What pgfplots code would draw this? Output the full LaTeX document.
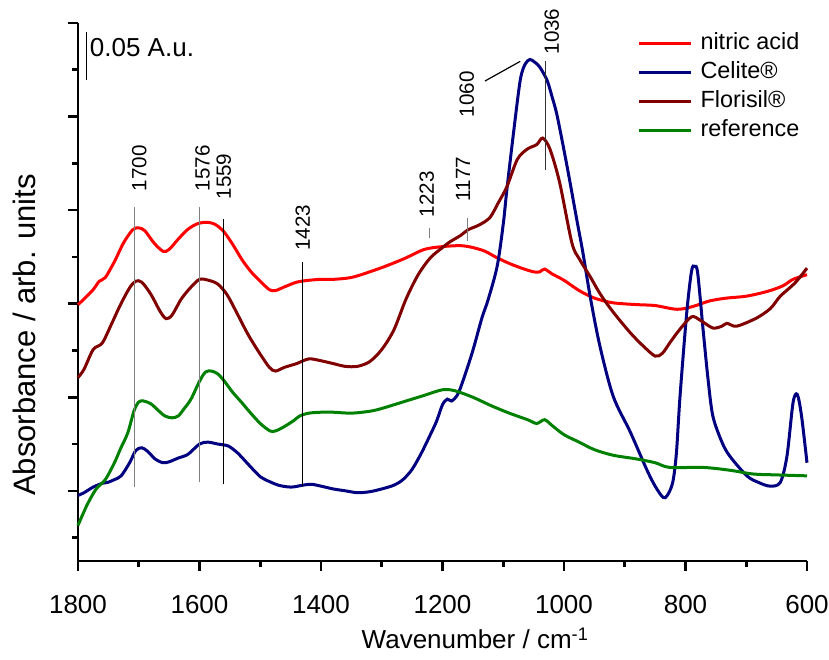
\documentclass[border=0pt]{standalone}
\usepackage{fontspec}
\setmainfont{Liberation Sans}
\usepackage{pgfplots}
\pgfplotsset{compat=1.18}
\definecolor{cred}{RGB}{255,0,0}
\definecolor{cblue}{RGB}{0,0,128}
\definecolor{cdred}{RGB}{128,0,0}
\definecolor{cgreen}{RGB}{0,128,0}
\newcommand{\annfont}{\fontsize{10.3}{12}\selectfont}
\begin{document}
\fontsize{13}{15.6}\selectfont
\begin{tikzpicture}
\begin{axis}[
  scale only axis, width=364.5pt, height=269pt,
  x dir=reverse, xmin=600, xmax=1800, ymin=-0.75, ymax=5,
  axis x line*=bottom, axis y line*=left,
  axis line style={-, line width=1.3pt},
  xtick={600,800,...,1800}, minor xtick={700,900,...,1700},
  ytick={0,1,2,3,4,5}, minor ytick={-0.5,0.5,1.5,2.5,3.5,4.5},
  yticklabels={},
  tick align=outside,
  major tick length=5pt, minor tick length=2.8pt,
  every tick/.style={black, line width=1.3pt},
  /pgf/number format/assume math mode=true,
  /pgf/number format/1000 sep={},
  xticklabel style={yshift=-7.5pt},
  xlabel={Wavenumber / cm\textsuperscript{-1}},
  ylabel={Absorbance / arb. units},
  xlabel style={at={(axis description cs:0.545,0)}, anchor=base, yshift=-44pt, inner sep=0pt},
  ylabel style={at={(axis description cs:0,0.42)}, anchor=south, yshift=21pt, inner sep=0pt,
    font=\fontsize{15.5}{18}\selectfont},
  clip=false,
  legend style={at={(rel axis cs:0.767,0.984)}, anchor=north west, draw=none, fill=none,
    row sep=2.8pt, inner sep=0pt, font=\fontsize{11.7}{14}\selectfont,
    nodes={inner sep=0pt, text height=8.8pt, text depth=2.9pt}},
  legend cell align=left,
  legend image code/.code={\draw[#1] (0pt,0pt) -- (26pt,0pt); \path (30pt,0pt);},
]
% nitric acid
\addplot[cred, line width=1.5pt, smooth] coordinates {
(1800,1.99)(1790,2.05)(1775,2.15)(1765,2.24)(1755,2.28)(1740,2.45)(1725,2.65)(1710,2.79)(1700,2.81)(1690,2.78)
(1675,2.65)(1660,2.56)(1650,2.58)(1635,2.69)(1620,2.79)(1605,2.85)(1590,2.87)(1575,2.85)(1560,2.77)(1545,2.63)
(1530,2.47)(1515,2.34)(1500,2.24)(1485,2.15)(1475,2.14)(1460,2.18)(1440,2.23)(1420,2.25)(1400,2.26)(1380,2.26)
(1350,2.28)(1320,2.34)(1290,2.41)(1260,2.49)(1230,2.58)(1200,2.61)(1170,2.62)(1150,2.60)(1130,2.56)(1110,2.49)
(1090,2.43)(1070,2.38)(1050,2.34)(1040,2.34)(1032,2.37)(1020,2.32)(1000,2.25)(975,2.14)(950,2.06)(920,2.01)
(880,1.99)(850,1.98)(814,1.94)(788,1.97)(760,2.03)(732,2.06)(700,2.08)(666,2.13)(640,2.19)(623,2.26)(600,2.31)};
\addlegendentry{nitric acid}
% Celite
\addplot[cblue, line width=1.5pt, smooth] coordinates {
(1800,-0.05)(1790,-0.02)(1775,0.04)(1760,0.08)(1751,0.09)(1740,0.12)(1729,0.16)(1715,0.30)(1705,0.43)(1695,0.46)
(1685,0.42)(1673,0.34)(1660,0.30)(1650,0.31)(1635,0.35)(1619,0.39)(1600,0.50)(1586,0.52)(1570,0.50)(1553,0.48)
(1540,0.42)(1532,0.37)(1515,0.25)(1500,0.15)(1492,0.12)(1470,0.06)(1449,0.04)(1430,0.06)(1416,0.07)(1400,0.05)
(1380,0.02)(1360,0.00)(1340,-0.02)(1320,-0.01)(1300,0.02)(1280,0.06)(1265,0.12)(1250,0.23)(1235,0.40)(1220,0.60)
(1210,0.74)(1200,0.92)(1192,0.98)(1185,0.96)(1175,1.03)(1165,1.20)(1150,1.50)(1135,1.85)(1125,2.04)(1110,2.40)
(1100,2.85)(1094,3.22)(1083,3.83)(1072,4.39)(1064,4.56)(1056,4.61)(1048,4.58)(1040,4.53)(1028,4.39)(1020,4.22)
(1011,4.00)(995,3.47)(979,2.90)(969,2.55)(957,2.08)(941,1.55)(919,1.01)(891,0.63)(864,0.23)(850,0.05)
(837,-0.07)(830,-0.05)(821,0.09)(815,0.40)(809,1.01)(798,1.90)(790,2.35)(785,2.40)(780,2.33)(771,1.72)
(763,1.20)(755,0.80)(740,0.52)(727,0.37)(699,0.16)(680,0.09)(661,0.05)(644,0.09)(633,0.37)(623,0.94)
(616,1.03)(609,0.80)(600,0.30)};
\addlegendentry{Celite®}
% Florisil
\addplot[cdred, line width=1.5pt, smooth] coordinates {
(1800,1.21)(1790,1.30)(1775,1.51)(1760,1.58)(1745,1.78)(1730,1.99)(1715,2.17)(1705,2.24)(1695,2.23)(1680,2.10)
(1665,1.92)(1655,1.84)(1645,1.88)(1630,2.05)(1615,2.17)(1600,2.26)(1585,2.25)(1570,2.21)(1555,2.10)(1540,1.92)
(1520,1.67)(1500,1.46)(1485,1.32)(1475,1.28)(1460,1.32)(1440,1.36)(1420,1.41)(1400,1.39)(1380,1.36)(1360,1.33)
(1340,1.33)(1320,1.38)(1300,1.51)(1280,1.72)(1260,2.05)(1240,2.31)(1220,2.49)(1200,2.60)(1188,2.66)(1170,2.73)
(1158,2.79)(1140,2.84)(1122,2.92)(1108,3.08)(1094,3.25)(1077,3.54)(1061,3.65)(1045,3.70)(1035,3.77)(1023,3.65)
(1007,3.29)(987,2.65)(974,2.47)(957,2.29)(940,2.10)(919,1.91)(891,1.69)(870,1.55)(850,1.44)(838,1.47)
(826,1.58)(810,1.72)(790,1.86)(775,1.82)(755,1.74)(740,1.76)(732,1.79)(720,1.76)(710,1.77)(682,1.85)
(660,1.95)(644,2.08)(620,2.22)(600,2.38)};
\addlegendentry{Florisil®}
% reference
\addplot[cgreen, line width=1.5pt, smooth] coordinates {
(1800,-0.37)(1785,-0.15)(1770,0.02)(1755,0.12)(1740,0.30)(1730,0.45)(1718,0.62)(1708,0.85)(1700,0.95)(1692,0.96)
(1680,0.93)(1668,0.86)(1657,0.80)(1645,0.78)(1635,0.80)(1625,0.88)(1614,0.98)(1600,1.17)(1590,1.27)(1580,1.28)
(1570,1.25)(1560,1.18)(1545,1.05)(1530,0.94)(1517,0.84)(1500,0.72)(1484,0.64)(1475,0.64)(1462,0.68)(1445,0.75)
(1435,0.80)(1420,0.83)(1400,0.84)(1380,0.84)(1350,0.83)(1320,0.85)(1300,0.88)(1260,0.96)(1230,1.02)(1200,1.08)
(1180,1.07)(1150,1.00)(1120,0.91)(1090,0.83)(1060,0.76)(1045,0.72)(1032,0.76)(1020,0.70)(1000,0.60)(975,0.52)
(950,0.44)(919,0.38)(880,0.34)(850,0.30)(826,0.25)(771,0.25)(727,0.22)(689,0.18)(650,0.17)(600,0.16)};
\addlegendentry{reference}
% annotation lines
\addplot[gray, line width=0.6pt, forget plot] coordinates {(1707,0.04)(1707,3.03)};
\addplot[gray, line width=0.6pt, forget plot] coordinates {(1600,0.09)(1600,3.03)};
\addplot[black, line width=0.6pt, forget plot] coordinates {(1560,0.07)(1560,2.90)};
\addplot[black, line width=0.6pt, forget plot] coordinates {(1430,0.05)(1430,2.45)};
\addplot[gray, line width=0.6pt, forget plot] coordinates {(1221,2.70)(1221,2.81)};
\addplot[gray, line width=0.6pt, forget plot] coordinates {(1159,2.67)(1159,2.92)};
\addplot[black!80, line width=0.6pt, forget plot] coordinates {(1030,3.43)(1030,4.59)};
\addplot[black, line width=0.6pt, forget plot] coordinates {(1130,4.38)(1072,4.59)};
\addplot[black, line width=0.6pt, forget plot] coordinates {(1786,4.39)(1786,4.90)};
% annotation labels
\node[rotate=90, anchor=west, inner sep=0pt, font=\annfont] at (axis cs:1699,3.20) {1700};
\node[rotate=90, anchor=west, inner sep=0pt, font=\annfont] at (axis cs:1595,3.20) {1576};
\node[rotate=90, anchor=west, inner sep=0pt, font=\annfont] at (axis cs:1560,3.11) {1559};
\node[rotate=90, anchor=west, inner sep=0pt, font=\annfont] at (axis cs:1430,2.56) {1423};
\node[rotate=90, anchor=west, inner sep=0pt, font=\annfont] at (axis cs:1226,2.92) {1223};
\node[rotate=90, anchor=west, inner sep=0pt, font=\annfont] at (axis cs:1166,3.09) {1177};
\node[rotate=90, anchor=west, inner sep=0pt, font=\annfont] at (axis cs:1160,3.99) {1060};
\node[rotate=90, anchor=west, inner sep=0pt, font=\annfont] at (axis cs:1020,4.66) {1036};
\node[anchor=west, inner sep=0pt] at (axis cs:1781,4.74) {0.05 A.u.};
\end{axis}
\pgfresetboundingbox
\path[use as bounding box] ([shift={(-39pt,-49.5pt)}]current axis.south west) rectangle ([shift={(11pt,11.5pt)}]current axis.north east);
\end{tikzpicture}
\end{document}
